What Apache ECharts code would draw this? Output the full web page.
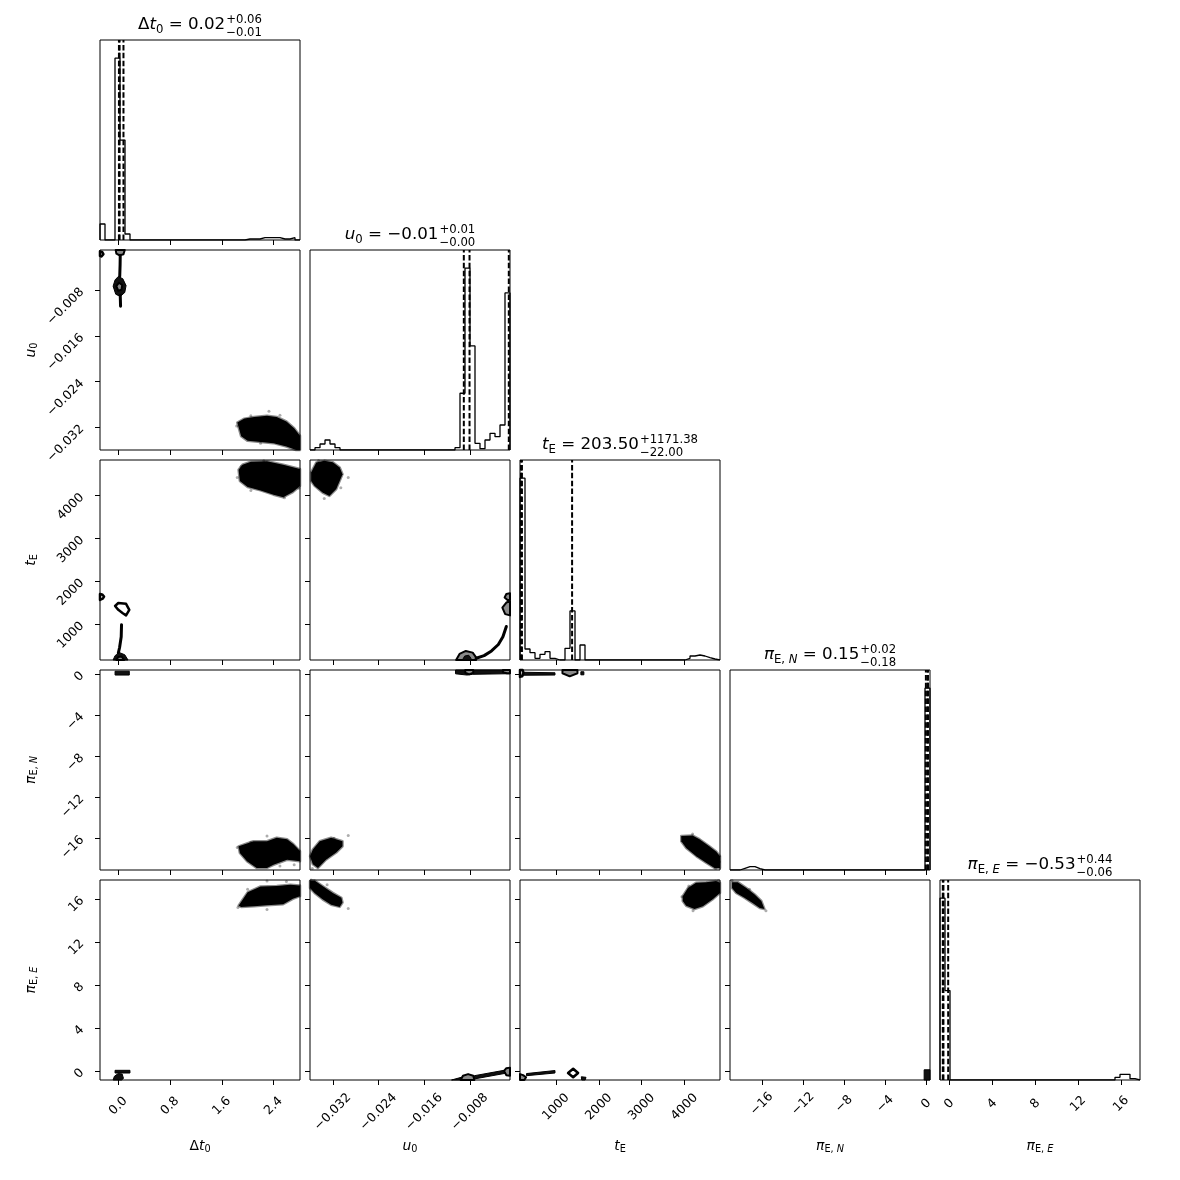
<!DOCTYPE html>
<html>
<head>
<meta charset="utf-8">
<script src="https://cdn.jsdelivr.net/npm/echarts@6.0.0/dist/echarts.min.js"></script>
<style>
html,body{margin:0;padding:0;background:#fff;}
#chart{width:1180px;height:1180px;}
</style>
</head>
<body>
<div id="chart"></div>
<script>
// ================= DATA =================
const dt0Range = [-0.283, 2.81];
const u0Range = [-0.0360, -0.00096];
const tERange = [158, 4830];
const piNRange = [-19.1, 0.37];
const piERange = [-0.85, 17.75];

const dt0Ticks = [0, 0.8, 1.6, 2.4];
const u0Ticks = [-0.032, -0.024, -0.016, -0.008];
const tETicks = [1000, 2000, 3000, 4000];
const piNTicks = [-16, -12, -8, -4, 0];
const piETicks = [0, 4, 8, 12, 16];

const dt0TickLabels = ['0.0', '0.8', '1.6', '2.4'];
const u0TickLabels = ['\u22120.032', '\u22120.024', '\u22120.016', '\u22120.008'];
const tETickLabels = ['1000', '2000', '3000', '4000'];
const piNTickLabels = ['\u221216', '\u221212', '\u22128', '\u22124', '0'];
const piETickLabels = ['0', '4', '8', '12', '16'];

// 1D histogram counts (40 bins spanning each axis range)
const dt0Counts = [16, 0, 0, 182, 100, 6, 0, 0, 0, 0,
                   0, 0, 0, 0, 0, 0, 0, 0, 0, 0,
                   0, 0, 0, 0, 0, 0, 0, 0, 0, 1,
                   1, 1, 2.3, 2.3, 2.3, 2.3, 1, 1, 2.3, 0];
const u0Counts = [0, 2.3, 6, 10, 6, 2.3, 0, 0, 0, 0,
                  0, 0, 0, 0, 0, 0, 0, 0, 0, 0,
                  0, 0, 0, 0, 0, 0, 0, 0, 0, 2.3,
                  56.7, 181.7, 104, 6.7, 1.3, 10, 16.7, 13.3, 25, 157];
const tECounts = [181.7, 11, 7.3, 1.7, 5.7, 8.3, 1.7, 0, 0, 11.7,
                  49, 0, 15, 0, 0, 0, 0, 0, 0, 0,
                  0, 0, 0, 0, 0, 0, 0, 0, 0, 0,
                  0, 0, 0, 1.7, 4, 5, 4, 2.3, 1, 0];
const piNCounts = [0, 0, 1.7, 3.3, 3.3, 1.3, 0, 0, 0, 0,
                   0, 0, 0, 0, 0, 0, 0, 0, 0, 0,
                   0, 0, 0, 0, 0, 0, 0, 0, 0, 0,
                   0, 0, 0, 0, 0, 0, 0, 0, 0, 182];
const piECounts = [183, 90, 0, 0, 0, 0, 0, 0, 0, 0,
                   0, 0, 0, 0, 0, 0, 0, 0, 0, 0,
                   0, 0, 0, 0, 0, 0, 0, 0, 0, 0,
                   0, 0, 0, 0, 0, 2.7, 5.7, 5.7, 1.3, 0];

// 16th, 50th, 84th percentiles
const dt0Quantiles = [0.01, 0.02, 0.08];
const u0Quantiles = [-0.00905, -0.00805, -0.00117];
const tEQuantiles = [181.5, 203.5, 1374.88];
const piNQuantiles = [-0.03, 0.15, 0.17];
const piEQuantiles = [-0.59, -0.53, -0.09];

// 2D sample clouds (outlines, data units) and contour pieces
const blobU0Dt0 = [[1.84,-0.0312],[1.95,-0.0305],[2.1,-0.0302],[2.3,-0.0300],[2.45,-0.0302],[2.6,-0.0310],[2.72,-0.0322],[2.81,-0.0335],[2.81,-0.0360],[2.75,-0.0360],[2.6,-0.0354],[2.4,-0.0348],[2.2,-0.0346],[2.0,-0.0344],[1.9,-0.0336]];
const ctU0Dt0Top = [[-0.04,-0.00096],[-0.03,-0.0016],[0.02,-0.0019],[0.08,-0.0017],[0.10,-0.00096]];
const ctU0Dt0Corner = [[-0.283,-0.0012],[-0.25,-0.0013],[-0.23,-0.0017],[-0.26,-0.0021],[-0.283,-0.0020]];
const ctU0Dt0Stem = [[0.03,-0.0019],[0.028,-0.0035],[0.022,-0.0056]];
const ctU0Dt0Oval = [[-0.08,-0.0073],[-0.05,-0.0062],[0.0,-0.0056],[0.07,-0.0060],[0.12,-0.0072],[0.10,-0.0084],[0.03,-0.0091],[-0.04,-0.0087]];
const ctU0Dt0Core = [[-0.03,-0.0073],[0.01,-0.0067],[0.06,-0.0071],[0.05,-0.0079],[0.0,-0.0081]];
const ctU0Dt0Tail = [[0.03,-0.0089],[0.035,-0.0108]];

const blobTEDt0 = [[1.86,4600],[1.92,4720],[2.05,4790],[2.3,4800],[2.55,4720],[2.81,4620],[2.81,4220],[2.7,4080],[2.55,3960],[2.4,4020],[2.2,4120],[2.0,4200],[1.88,4340]];
const ctTEDt0Corner = [[-0.283,1560],[-0.24,1590],[-0.22,1640],[-0.25,1690],[-0.283,1700]];
const ctTEDt0Loop = [[-0.05,1420],[0.0,1490],[0.12,1470],[0.17,1330],[0.12,1200],[0.07,1250],[0.0,1330]];
const ctTEDt0Stem = [[0.05,980],[0.045,700],[0.02,450],[0.0,320]];
const ctTEDt0Base = [[-0.08,158],[-0.05,260],[0.02,330],[0.1,280],[0.15,158]];
const ctTEDt0BaseCore = [[-0.03,158],[0.0,230],[0.05,240],[0.09,158]];

const blobPiNDt0 = [[1.86,-16.8],[2.0,-16.5],[2.09,-16.3],[2.3,-16.3],[2.45,-15.95],[2.61,-16.1],[2.71,-16.6],[2.81,-17.25],[2.81,-18.25],[2.61,-18.1],[2.4,-18.6],[2.3,-18.9],[2.14,-18.9],[1.99,-18.25],[1.88,-17.45]];
const ctPiNDt0Bar = [[-0.05,0.25],[0.17,0.25],[0.17,-0.12],[-0.05,-0.12]];

const blobPiEDt0 = [[1.86,15.35],[1.92,15.9],[2.0,16.6],[2.2,17.15],[2.45,17.2],[2.66,17.3],[2.81,17.25],[2.81,16.25],[2.7,16.0],[2.55,15.5],[2.3,15.4],[2.1,15.3],[1.9,15.25]];
const ctPiEDt0Bar = [[-0.05,0.05],[0.18,0.05],[0.18,-0.2],[-0.05,-0.2]];
const ctPiEDt0Foot = [[-0.08,-0.85],[-0.06,-0.5],[0.0,-0.25],[0.06,-0.3],[0.08,-0.7],[0.05,-0.85]];

const blobTEU0 = [[-0.0349,4770],[-0.0335,4810],[-0.0320,4775],[-0.0308,4655],[-0.0303,4500],[-0.0314,4150],[-0.0326,3990],[-0.0338,4070],[-0.0352,4225],[-0.0358,4340],[-0.0358,4540]];
const ctTEU0Oval = [[-0.0104,158],[-0.0098,300],[-0.0087,370],[-0.0075,330],[-0.0069,220],[-0.0069,158]];
const ctTEU0Core = [[-0.0093,158],[-0.0089,250],[-0.0082,270],[-0.0078,200],[-0.0078,158]];
const ctTEU0Arc = [[-0.0069,200],[-0.0055,260],[-0.0042,370],[-0.0030,520],[-0.0022,700],[-0.0016,940]];
const ctTEU0EdgeHi = [[-0.00096,1720],[-0.0016,1700],[-0.0019,1620],[-0.0014,1560],[-0.00096,1560]];
const ctTEU0EdgeLo = [[-0.00096,1530],[-0.0016,1500],[-0.0023,1380],[-0.0018,1230],[-0.00096,1200]];

const blobPiNU0 = [[-0.0303,-16.3],[-0.0323,-15.95],[-0.0343,-16.3],[-0.0355,-17.1],[-0.0360,-17.75],[-0.0355,-18.55],[-0.0346,-18.9],[-0.0332,-18.1],[-0.0314,-17.4],[-0.0303,-16.8]];
const ctPiNU0Band = [[-0.0105,0.37],[-0.0105,0.0],[-0.0085,-0.12],[-0.0075,-0.05],[-0.002,0.0],[-0.00096,0.0],[-0.00096,0.37]];
const ctPiNU0Oval = [[-0.0088,0.37],[-0.0088,0.1],[-0.0081,-0.05],[-0.0074,0.1],[-0.0074,0.37]];
const ctPiNU0Edge = [[-0.0022,0.37],[-0.0022,0.15],[-0.0015,0.05],[-0.00096,0.05],[-0.00096,0.37]];

const blobPiEU0 = [[-0.0360,17.65],[-0.0352,17.7],[-0.0338,17.2],[-0.0320,16.55],[-0.0305,16.1],[-0.0303,15.65],[-0.0308,15.25],[-0.0323,15.45],[-0.0338,15.95],[-0.0352,16.55],[-0.0360,17.0]];
const ctPiEU0Band = [[-0.0112,-0.85],[-0.0095,-0.6],[-0.0072,-0.45],[-0.002,0.05],[-0.00096,0.05],[-0.00096,-0.2],[-0.002,-0.25],[-0.0072,-0.75],[-0.0095,-0.85]];
const ctPiEU0Oval = [[-0.0096,-0.85],[-0.0092,-0.45],[-0.0083,-0.3],[-0.0074,-0.45],[-0.0072,-0.85]];
const ctPiEU0Edge = [[-0.0020,0.0],[-0.0016,0.25],[-0.00096,0.3],[-0.00096,-0.45],[-0.0016,-0.4]];

const blobPiNTE = [[3925,-15.8],[4190,-15.75],[4350,-16.1],[4580,-16.8],[4740,-17.3],[4830,-17.75],[4830,-18.9],[4700,-18.9],[4505,-18.4],[4275,-17.75],[4040,-16.95],[3925,-16.3]];
const ctPiNTEBand = [[230,0.15],[975,0.1],[975,-0.12],[230,-0.14]];
const ctPiNTECorner = [[158,0.37],[158,-0.3],[210,-0.25],[240,0.1],[220,0.37]];
const ctPiNTEOval = [[1150,0.37],[1150,0.05],[1320,-0.25],[1500,0.05],[1500,0.37]];
const ctPiNTEMark = [[1580,0.2],[1650,0.2],[1650,-0.1],[1580,-0.1]];

const blobPiETE = [[3960,16.25],[4080,17.0],[4270,17.5],[4505,17.55],[4740,17.65],[4830,17.5],[4830,16.55],[4660,15.95],[4430,15.3],[4235,15.05],[4040,15.35],[3960,15.8]];
const ctPiETEBand = [[310,-0.25],[975,0.03],[975,-0.2],[310,-0.45]];
const ctPiETECorner = [[158,-0.3],[230,-0.4],[300,-0.6],[260,-0.85],[158,-0.85]];
const ctPiETEDiamond = [[1280,-0.2],[1400,0.2],[1515,-0.2],[1400,-0.6]];
const ctPiETEMark = [[1590,-0.55],[1700,-0.6],[1680,-0.85],[1600,-0.85]];

const blobPiEPiN = [[-18.9,17.55],[-18.35,17.55],[-17.5,17.0],[-16.7,16.4],[-16.05,15.8],[-15.75,15.05],[-16.2,15.15],[-16.9,15.6],[-17.7,16.1],[-18.5,16.55],[-18.9,17.0]];
const ctPiEPiNEdge = [[-0.2,0.1],[0.37,0.1],[0.37,-0.85],[-0.2,-0.85]];

// scattered outlier samples around the clouds
const dotsU0Dt0 = [[2.33,-0.0292],[1.83,-0.0318],[2.78,-0.0358],[2.5,-0.0299],[2.05,-0.0300],[2.2,-0.0348]];
const dotsTEDt0 = [[1.84,4420],[2.25,4815],[2.57,3950],[2.79,4170],[2.05,4120],[1.9,4680]];
const dotsPiNDt0 = [[2.3,-15.8],[2.72,-18.6],[1.84,-16.9],[2.5,-18.7],[2.05,-16.4]];
const dotsPiEDt0 = [[2.3,15.0],[1.85,15.2],[2.6,17.6],[2.3,17.65],[2.0,16.9]];
const dotsTEU0 = [[-0.0293,4420],[-0.0335,3930],[-0.0306,4180],[-0.0345,4820]];
const dotsPiNU0 = [[-0.0293,-15.75],[-0.0356,-18.95],[-0.0318,-16.0]];
const dotsPiEU0 = [[-0.0293,15.1],[-0.0358,17.75],[-0.0330,17.3]];
const dotsPiNTE = [[4190,-15.6],[4816,-18.3],[4730,-18.95],[3960,-15.9]];
const dotsPiETE = [[4200,14.9],[3940,16.2],[4790,17.7],[4100,17.2]];
const dotsPiEPiN = [[-15.6,14.9],[-18.9,17.7],[-17.2,16.9]];

// text
const titleTokens = [
  [['\u0394','n'],['t','i'],['0','sub'],[' = 0.02','n'],[['+0.06','\u22120.01'],'stack']],
  [['u','i'],['0','sub'],[' = \u22120.01','n'],[['+0.01','\u22120.00'],'stack']],
  [['t','i'],['E','sub'],[' = 203.50','n'],[['+1171.38','\u221222.00'],'stack']],
  [['\u03c0','i'],['E, ','sub'],['N','subi'],[' = 0.15','n'],[['+0.02','\u22120.18'],'stack']],
  [['\u03c0','i'],['E, ','sub'],['E','subi'],[' = \u22120.53','n'],[['+0.44','\u22120.06'],'stack']]
];
const axisNameTokens = [
  [['\u0394','n'],['t','i'],['0','sub']],
  [['u','i'],['0','sub']],
  [['t','i'],['E','sub']],
  [['\u03c0','i'],['E, ','sub'],['N','subi']],
  [['\u03c0','i'],['E, ','sub'],['E','subi']]
];

// ================= BUILD =================
const FONT = '"DejaVu Sans"';
const vars = [
  {range: dt0Range, ticks: dt0Ticks, labels: dt0TickLabels, counts: dt0Counts, q: dt0Quantiles},
  {range: u0Range, ticks: u0Ticks, labels: u0TickLabels, counts: u0Counts, q: u0Quantiles},
  {range: tERange, ticks: tETicks, labels: tETickLabels, counts: tECounts, q: tEQuantiles},
  {range: piNRange, ticks: piNTicks, labels: piNTickLabels, counts: piNCounts, q: piNQuantiles},
  {range: piERange, ticks: piETicks, labels: piETickLabels, counts: piECounts, q: piEQuantiles}
];
const panelShapes = {
  '1,0': {dots: dotsU0Dt0, shapes: [[blobU0Dt0,'blob'],[ctU0Dt0Top,'gray'],[ctU0Dt0Corner,'loop'],[ctU0Dt0Stem,'line'],[ctU0Dt0Oval,'dark'],[ctU0Dt0Core,'gray'],[ctU0Dt0Tail,'line']]},
  '2,0': {dots: dotsTEDt0, shapes: [[blobTEDt0,'blob'],[ctTEDt0Corner,'loop'],[ctTEDt0Loop,'loop'],[ctTEDt0Stem,'line'],[ctTEDt0Base,'dark'],[ctTEDt0BaseCore,'gray']]},
  '3,0': {dots: dotsPiNDt0, shapes: [[blobPiNDt0,'blob'],[ctPiNDt0Bar,'dark']]},
  '4,0': {dots: dotsPiEDt0, shapes: [[blobPiEDt0,'blob'],[ctPiEDt0Bar,'dark'],[ctPiEDt0Foot,'dark']]},
  '2,1': {dots: dotsTEU0, shapes: [[blobTEU0,'blob'],[ctTEU0Oval,'gray'],[ctTEU0Core,'dark'],[ctTEU0Arc,'line'],[ctTEU0EdgeHi,'gray'],[ctTEU0EdgeLo,'gray']]},
  '3,1': {dots: dotsPiNU0, shapes: [[blobPiNU0,'blob'],[ctPiNU0Band,'dark'],[ctPiNU0Oval,'gray'],[ctPiNU0Edge,'gray']]},
  '4,1': {dots: dotsPiEU0, shapes: [[blobPiEU0,'blob'],[ctPiEU0Band,'dark'],[ctPiEU0Oval,'gray'],[ctPiEU0Edge,'gray']]},
  '3,2': {dots: dotsPiNTE, shapes: [[blobPiNTE,'blob'],[ctPiNTEBand,'dark'],[ctPiNTECorner,'loop'],[ctPiNTEOval,'gray'],[ctPiNTEMark,'dark']]},
  '4,2': {dots: dotsPiETE, shapes: [[blobPiETE,'blob'],[ctPiETEBand,'dark'],[ctPiETECorner,'gray'],[ctPiETEDiamond,'loop'],[ctPiETEMark,'dark']]},
  '4,3': {dots: dotsPiEPiN, shapes: [[blobPiEPiN,'blob'],[ctPiEPiNEdge,'dark']]}
};
const shapeStyle = {
  blob: {fill: '#000', stroke: 'rgba(0,0,0,0.45)', lineWidth: 2.5},
  dark: {fill: '#111', stroke: '#000', lineWidth: 1},
  gray: {fill: '#8a8a8a', stroke: '#000', lineWidth: 2},
  loop: {fill: '#fff', stroke: '#000', lineWidth: 2.5},
  line: {fill: null, stroke: '#000', lineWidth: 3}
};

const PX0 = 100, PY0 = 40, PS = 200, PG = 10;
const xLabelMargin = [26, 32, 27, 24, 24];

function fmtFor(v) {
  return function (val) {
    for (let k = 0; k < v.ticks.length; k++) {
      if (Math.abs(v.ticks[k] - val) <= 1e-9 + 1e-6 * Math.abs(v.ticks[k])) return v.labels[k];
    }
    return '';
  };
}

const grids = [], xAxes = [], yAxes = [], series = [];
for (let i = 0; i < 5; i++) {
  for (let j = 0; j <= i; j++) {
    const g = grids.length;
    grids.push({left: PX0 + j * (PS + PG), top: PY0 + i * (PS + PG), width: PS, height: PS,
      show: true, borderColor: '#000', borderWidth: 1, backgroundColor: 'rgba(0,0,0,0)',
      outerBoundsMode: 'none'});
    const vx = vars[j];
    xAxes.push({type: 'value', gridIndex: g, min: vx.range[0], max: vx.range[1],
      axisLine: {show: false, onZero: false}, splitLine: {show: false},
      axisTick: {show: true, customValues: vx.ticks, length: 5, lineStyle: {color: '#000', width: 1}},
      axisLabel: {show: i === 4, customValues: vx.ticks, formatter: fmtFor(vx), rotate: 45,
        align: 'center', verticalAlign: 'middle', margin: xLabelMargin[j], interval: 0,
        fontSize: 12.5, fontFamily: 'DejaVu Sans', color: '#000'}});
    if (i === j) {
      const ymax = 1.1 * Math.max(...vx.counts);
      yAxes.push({type: 'value', gridIndex: g, min: 0, max: ymax, show: false});
      // histogram outline
      const n = vx.counts.length, w = (vx.range[1] - vx.range[0]) / n;
      const hd = [[vx.range[0], 0]];
      vx.counts.forEach((c, k) => hd.push([vx.range[0] + k * w, c]));
      hd.push([vx.range[1], 0]);
      series.push({type: 'line', xAxisIndex: g, yAxisIndex: g, data: hd, step: 'end',
        symbol: 'none', silent: true, lineStyle: {color: '#000', width: 1.3}, z: 3});
      vx.q.forEach(q => {
        series.push({type: 'line', xAxisIndex: g, yAxisIndex: g, data: [[q, 0], [q, ymax]],
          symbol: 'none', silent: true, z: 4,
          lineStyle: {color: '#000', width: 2, type: [5.5, 2.4]}});
      });
    } else {
      const vy = vars[i];
      yAxes.push({type: 'value', gridIndex: g, min: vy.range[0], max: vy.range[1],
        axisLine: {show: false, onZero: false}, splitLine: {show: false},
        axisTick: {show: true, customValues: vy.ticks, length: 5, lineStyle: {color: '#000', width: 1}},
        axisLabel: {show: j === 0, customValues: vy.ticks, formatter: fmtFor(vy), rotate: 45,
          align: 'right', verticalAlign: 'middle', margin: 18, interval: 0,
          fontSize: 12.5, fontFamily: 'DejaVu Sans', color: '#000'}});
      const spec = panelShapes[i + ',' + j];
      series.push({type: 'scatter', xAxisIndex: g, yAxisIndex: g, data: spec.dots, symbolSize: 3,
        silent: true, itemStyle: {color: 'rgba(0,0,0,0.4)'}, z: 2});
      spec.shapes.forEach(([pts, kind]) => {
        const st = shapeStyle[kind];
        series.push({type: 'custom', xAxisIndex: g, yAxisIndex: g, data: pts, silent: true, z: 3,
          renderItem: function (params, api) {
            if (params.dataIndex !== 0) return null;
            const p = pts.map(d => api.coord(d));
            if (kind === 'line') {
              return {type: 'polyline', shape: {points: p},
                style: {fill: null, stroke: st.stroke, lineWidth: st.lineWidth, lineJoin: 'round', lineCap: 'round'}};
            }
            return {type: 'polygon', shape: {points: p},
              style: {fill: st.fill, stroke: st.stroke, lineWidth: st.lineWidth, lineJoin: 'round'}};
          }});
      });
    }
  }
}

// ---- text (titles & axis names) ----
const mctx = document.createElement('canvas').getContext('2d');
function fontStr(size, italic) { return (italic ? 'italic ' : '') + size + 'px ' + FONT; }
function measure(t, size, italic) { mctx.font = fontStr(size, italic); return mctx.measureText(t).width; }
function layoutTokens(list, F) {
  const S = F * 0.7;
  const items = []; let x = 0;
  list.forEach(([t, role]) => {
    if (role === 'stack') {
      const w1 = measure(t[0], S, false), w2 = measure(t[1], S, false);
      items.push({t: t[0], x: x + 1, dy: -0.3 * F, size: S, it: false});
      items.push({t: t[1], x: x + 1, dy: 0.45 * F, size: S, it: false});
      x += Math.max(w1, w2) + 1;
    } else {
      const sub = role === 'sub' || role === 'subi';
      const size = sub ? S : F;
      const it = role === 'i' || role === 'subi';
      items.push({t, x, dy: sub ? 0.28 * F : 0, size, it});
      x += measure(t, size, it);
    }
  });
  return {items, width: x};
}
function textEls(list, F, cx, cy) {
  const L = layoutTokens(list, F);
  const x0 = cx - L.width / 2;
  return L.items.map(o => ({type: 'text', x: x0 + o.x, y: cy + o.dy, silent: true,
    style: {text: o.t, font: fontStr(o.size, o.it), fill: '#000',
      align: 'left', verticalAlign: 'middle', textAlign: 'left', textVerticalAlign: 'middle'}}));
}
const graphics = [];
for (let k = 0; k < 5; k++) {
  const cx = PX0 + k * (PS + PG) + PS / 2;
  const top = PY0 + k * (PS + PG);
  textEls(titleTokens[k], 16.7, cx, top - 15).forEach(e => graphics.push(e));
  textEls(axisNameTokens[k], 13.9, cx, 1146).forEach(e => graphics.push(e));
  if (k > 0) {
    const cy = PY0 + k * (PS + PG) + PS / 2;
    graphics.push({type: 'group', x: 31, y: cy, rotation: Math.PI / 2, silent: true,
      children: textEls(axisNameTokens[k], 13.9, 0, 0)});
  }
}

const chart = echarts.init(document.getElementById('chart'), null, {renderer: 'canvas'});
chart.setOption({
  animation: false,
  backgroundColor: '#fff',
  grid: grids, xAxis: xAxes, yAxis: yAxes, series: series,
  graphic: {elements: graphics}
});
</script>
</body>
</html>
